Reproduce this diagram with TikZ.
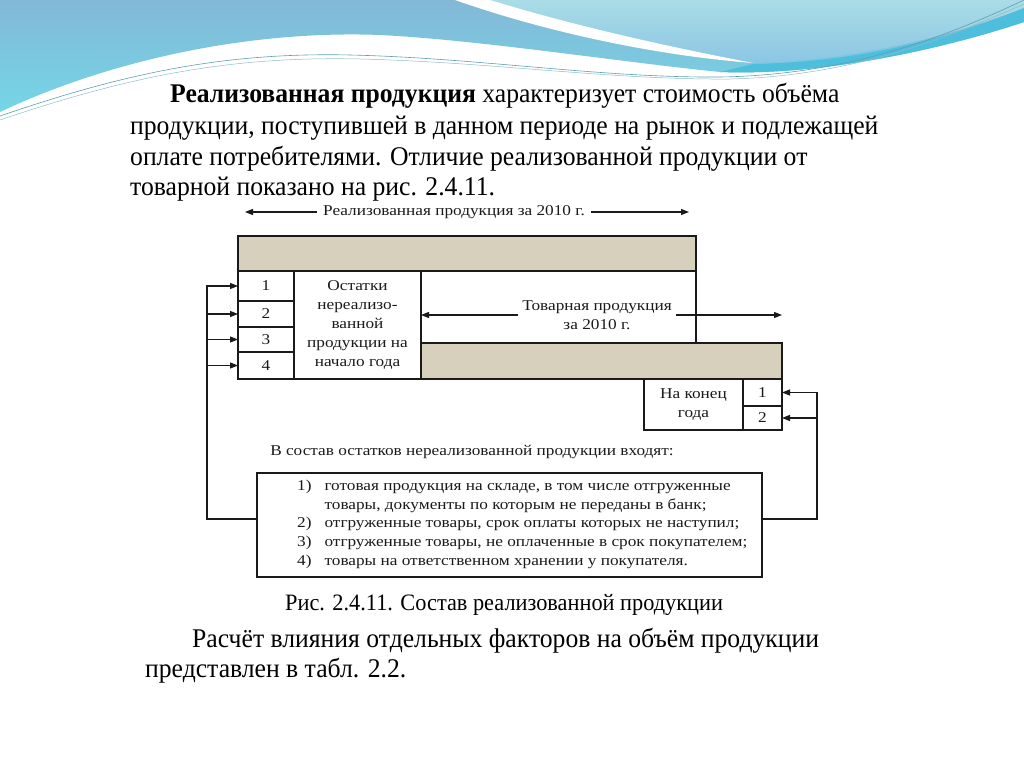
\documentclass[tikz,border=0pt]{standalone}
\usepackage{fontspec}
\setmainfont{Liberation Serif}
\newfontfamily\slidefont[FakeStretch=0.95]{Liberation Serif}
\newfontfamily\figfont[FakeStretch=1.15]{Liberation Serif}
\usetikzlibrary{arrows.meta,positioning}
\definecolor{ink}{HTML}{1A1A1A}
\definecolor{sand}{HTML}{D6D0BC}
\definecolor{skyblue}{HTML}{83B8D7}
\definecolor{skycyan}{HTML}{74D6E6}
\definecolor{palecyan}{HTML}{A9DCE6}
\definecolor{paleblue}{HTML}{8CC6E4}
\definecolor{deepcyan}{HTML}{4DBFDD}
\definecolor{waveline}{HTML}{5E9FAE}
\tikzset{
  cell/.style={draw=ink,line width=1.2pt,fill=white,outer sep=0pt,inner sep=0pt,align=center,font=\figfont\fontsize{15}{19}\selectfont,text=ink},
  bar/.style={cell,fill=sand},
  figtext/.style={inner sep=6pt,align=center,font=\figfont\fontsize{15}{18.5}\selectfont,text=ink},
  flow/.style={-{Triangle[length=8pt,width=6pt]},line width=1.2pt,draw=ink},
  slidetext/.style={anchor=base west,inner sep=0pt,font=\slidefont\fontsize{27}{31}\selectfont}
}

\begin{document}
\begin{tikzpicture}[x=1pt,y=-1pt,node distance=0pt]
  \useasboundingbox (0,0) rectangle (1024,768);
  % header waves
  \shade[top color=skyblue,bottom color=skycyan] (0,0) -- (1024,0) -- (1024,22) .. controls (940,50) and (820,76) .. (720,72) .. controls (620,62) and (480,40) .. (380,35) .. controls (250,30) and (110,60) .. (0,112) -- cycle;
  \shade[top color=palecyan,bottom color=paleblue] (488,0) -- (1024,0) -- (1024,8) .. controls (940,40) and (850,60) .. (753,63) .. controls (660,45) and (570,25) .. (488,0) -- cycle;
  \fill[white] (455,0) -- (490,0) .. controls (575,26) and (665,46) .. (753,63) .. controls (650,55) and (540,30) .. (455,0) -- cycle;
  \fill[deepcyan] (753,64) .. controls (860,62) and (950,38) .. (1024,8) -- (1024,22) .. controls (940,50) and (820,76) .. (720,72) -- cycle;
  \draw[waveline,line width=0.6pt] (0,116) .. controls (120,75) and (220,52) .. (350,55) .. controls (480,58) and (600,78) .. (720,77) .. controls (850,75) and (950,35) .. (1024,0);
  \draw[waveline!70,line width=0.5pt] (0,120) .. controls (130,76) and (230,56) .. (360,59) .. controls (490,62) and (610,80) .. (730,79) .. controls (860,76) and (960,32) .. (1024,4);

  \node[slidetext] (p1) at (170,102) {\textbf{Реализованная продукция} характеризует стоимость объёма};
  \node[slidetext] (p2) at (130,134) {продукции, поступившей в данном периоде на рынок и подлежащей};
  \node[slidetext] (p3) at (130,165) {оплате потребителями. Отличие реализованной продукции от};
  \node[slidetext] (p4) at (130,195) {товарной показано на рис. 2.4.11.};

  \node[figtext] (realtext) at (454,212) {Реализованная продукция за 2010 г.};
  \coordinate (realL) at (245,212);
  \coordinate (realR) at (689,212);
  \draw[flow] (realtext.west) -- (realL);
  \draw[flow] (realtext.east) -- (realR);

  \node[bar,minimum width=458pt,minimum height=35pt,anchor=north west] (topbar) at (238,236) {};
  \node[cell,minimum width=56pt,minimum height=30pt,anchor=north west] (n1) at (topbar.south west) {1};
  \node[cell,minimum width=56pt,minimum height=26pt,below=of n1] (n2) {2};
  \node[cell,minimum width=56pt,minimum height=25pt,below=of n2] (n3) {3};
  \node[cell,minimum width=56pt,minimum height=27pt,below=of n3] (n4) {4};
  \node[cell,minimum width=127pt,minimum height=108pt,anchor=north west] (ostatki) at (n1.north east) {Остатки\\нереализо-\\ванной\\продукции на\\начало года};
  \node[cell,fill=none,minimum width=275pt,minimum height=72pt,anchor=north west] (tovar) at (ostatki.north east) {};
  \node[bar,minimum width=361pt,minimum height=36pt,anchor=north west] (lowbar) at (tovar.south west) {};
  \node[figtext,inner sep=4pt] (tovtext) at (597,315) {Товарная продукция\\за 2010 г.};
  \draw[flow] (tovtext.west) -- (ostatki.east |- tovtext.west);
  \draw[flow] (tovtext.east) -- (lowbar.east |- tovtext.east);

  \node[cell,minimum width=39pt,minimum height=27pt,anchor=north east] (e1) at (lowbar.south east) {1};
  \node[cell,minimum width=39pt,minimum height=24pt,below=of e1] (e2) {2};
  \node[cell,minimum width=99pt,minimum height=51pt,anchor=north east] (konec) at (e1.north west) {На конец\\года};

  \node[figtext] (sostav) at (472,452) {В состав остатков нереализованной продукции входят:};
  \node[cell,minimum width=505pt,minimum height=104pt,anchor=north west] (list) at (257,473) {};
  \node[figtext,anchor=west,align=left,inner sep=0pt,font=\figfont\fontsize{15}{18.7}\selectfont] (items) at (297,524) {%
    \begin{tabular}{@{}r@{\hspace{13pt}}l@{}}
      1) & готовая продукция на складе, в том числе отгруженные\\
         & товары, документы по которым не переданы в банк;\\
      2) & отгруженные товары, срок оплаты которых не наступил;\\
      3) & отгруженные товары, не оплаченные в срок покупателем;\\
      4) & товары на ответственном хранении у покупателя.
    \end{tabular}};

  \coordinate (lturn) at (207,519);
  \coordinate (rturn) at (817,519);
  \draw[flow] (list.west |- lturn) -- (lturn) |- (n1.west);
  \foreach \k in {2,3,4}
    \draw[flow] (lturn |- n\k.west) -- (n\k.west);
  \draw[flow] (list.east |- rturn) -- (rturn) |- (e1.east);
  \draw[flow] (rturn |- e2.east) -- (e2.east);

  \node[slidetext,font=\slidefont\fontsize{23.5}{27}\selectfont] (caption) at (285,610) {Рис. 2.4.11. Состав реализованной продукции};
  \node[slidetext] (p5) at (192,647) {Расчёт влияния отдельных факторов на объём продукции};
  \node[slidetext] (p6) at (145,677) {представлен в табл. 2.2.};
\end{tikzpicture}
\end{document}
